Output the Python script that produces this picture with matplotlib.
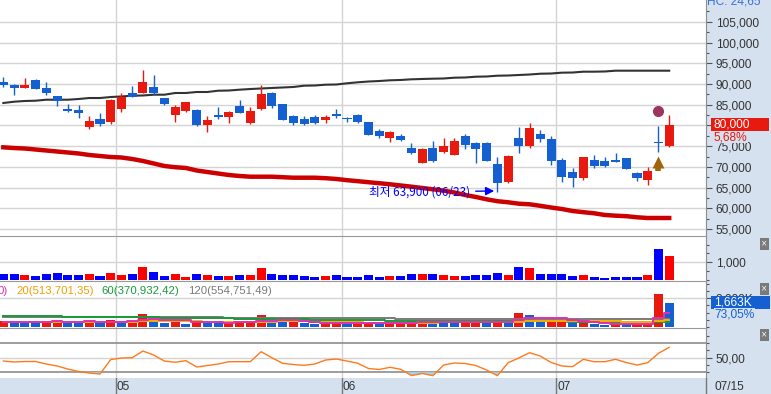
import numpy as np
import matplotlib.pyplot as plt
from matplotlib.patches import Rectangle

# ---- data ----
opens = [90500, 89800, 89100, 91000, 89000, 87100, 84000, 83700, 79700, 81600,
         80900, 84000, 87800, 87800, 89300, 86600, 82600, 83500, 83700, 80100,
         82500, 82100, 84700, 80600, 84000, 87800, 85200, 82300, 81600, 82000,
         81300, 82800, 81900, 82600, 80800, 78700, 77000, 77500, 74600, 71000,
         74600, 73600, 72900, 77500, 75800, 75800, 70700, 66400, 77000, 75100,
         78000, 76700, 71700, 68800, 67400, 71700, 71400, 71700, 72200, 68500,
         66900, 76000, 75100]
highs = [91700, 89900, 91400, 91200, 90500, 87100, 85200, 84900, 82300, 83000,
         86400, 87800, 89500, 93400, 92200, 86700, 84900, 85700, 84000, 82300,
         84500, 83500, 86100, 84500, 89800, 88100, 85200, 82500, 82300, 82500,
         82500, 84000, 82100, 82800, 80800, 79100, 78700, 78000, 75800, 74600,
         76300, 77000, 77000, 78000, 76100, 76100, 72500, 72900, 79700, 80600,
         78900, 77500, 72200, 69700, 72400, 72900, 72400, 73400, 72200, 68800,
         70000, 79900, 82500]
lows = [89300, 87400, 89100, 88900, 87400, 84800, 83300, 81900, 79100, 79900,
        80400, 83300, 86900, 87800, 87400, 84900, 80800, 83200, 79900, 78400,
        81600, 80600, 83000, 80400, 83700, 84200, 81300, 80100, 80100, 80400,
        80600, 81800, 80900, 80700, 77800, 77000, 76000, 76300, 73200, 71000,
        71300, 73400, 72900, 74400, 71000, 71500, 63900, 66200, 73400, 74600,
        76100, 70500, 66400, 65200, 66900, 69800, 70100, 71300, 69600, 66700,
        65700, 73700, 74900]
closes = [89800, 89100, 89800, 88900, 87800, 86000, 83600, 83100, 81100, 80400,
          86100, 86900, 86900, 90500, 87800, 85200, 84500, 85700, 80100, 81300,
          82100, 83200, 83000, 83500, 87600, 84700, 81300, 80600, 80400, 80600,
          82000, 82300, 81600, 80800, 77800, 77500, 78500, 76600, 73400, 74300,
          71500, 75000, 76300, 75400, 74400, 71500, 66200, 72700, 75100, 79400,
          76800, 71500, 67600, 67400, 72400, 70300, 70300, 71300, 69600, 67400,
          69000, 75700, 80000]
ma_upper = [85420, 85730, 85900, 85970, 86210, 86210, 86210, 86380, 86620, 86620,
            86860, 86990, 87180, 87230, 87420, 87420, 87830, 87830, 88070, 88070,
            88380, 88430, 88630, 88790, 88920, 89040, 89160, 89280, 89590, 89640,
            89830, 89880, 90170, 90410, 90600, 90720, 90890, 90970, 91130, 91210,
            91280, 91330, 91520, 91570, 91760, 91810, 92000, 92050, 92170, 92290,
            92480, 92530, 92730, 92770, 92970, 92970, 93020, 93210, 93210, 93210,
            93210, 93210, 93210]
ma_lower = [74730, 74560, 74440, 74200, 73960, 73720, 73480, 73240, 72880, 72630,
            72390, 72270, 71910, 71430, 70830, 70220, 69930, 69740, 69140, 68770,
            68410, 68050, 67810, 67640, 67640, 67640, 67520, 67400, 67400, 67400,
            67280, 67090, 66800, 66560, 66310, 66070, 65810, 65520, 65230, 64920,
            64600, 64270, 63830, 63230, 62750, 62190, 61730, 61470, 61130, 60990,
            60620, 60210, 59850, 59370, 59080, 58820, 58410, 58240, 58120, 57850,
            57680, 57680, 57680]
# trading value (panel 2)
value = [340, 340, 280, 230, 340, 400, 280, 280, 340, 230, 400, 280, 340, 730, 450, 230,
         340, 170, 340, 280, 230, 230, 280, 280, 680, 340, 280, 280, 230, 170, 230, 280,
         170, 170, 280, 170, 230, 230, 340, 340, 340, 280, 230, 230, 280, 280, 400, 280,
         730, 680, 340, 340, 340, 230, 280, 170, 110, 170, 170, 170, 280, 1750, 1360]
# volume in K shares (panel 3) and whether it rose vs the previous day
volume = [420, 400, 350, 280, 420, 490, 350, 330, 420, 280, 490, 350, 420, 900, 560, 280,
          420, 210, 420, 350, 280, 290, 350, 360, 840, 420, 350, 360, 280, 210, 280, 350,
          210, 220, 350, 210, 280, 290, 420, 430, 420, 350, 280, 290, 350, 340, 490, 350,
          980, 840, 420, 430, 440, 280, 350, 210, 140, 210, 200, 210, 350, 2300, 1663]
vol_up = [1, 0, 0, 0, 1, 1, 0, 0, 1, 0, 1, 0, 1, 1, 0, 0, 1, 0, 1, 0, 0, 1, 1, 1, 1, 0,
          0, 1, 0, 0, 1, 1, 0, 1, 1, 0, 1, 1, 1, 1, 0, 0, 0, 1, 1, 0, 1, 0, 1, 0, 0, 1,
          1, 0, 1, 0, 0, 1, 0, 1, 1, 1, 0]
vma5 = [360, 365, 370, 372, 374, 388, 378, 374, 402, 374, 374, 374, 392, 488, 544, 502,
        516, 474, 378, 336, 336, 310, 338, 326, 424, 452, 464, 466, 450, 324, 296, 286,
        266, 254, 282, 268, 254, 270, 310, 326, 368, 382, 358, 354, 338, 322, 350, 364,
        502, 600, 616, 604, 622, 482, 384, 342, 266, 238, 222, 194, 222, 652, 947]
vma20 = [380, 375, 370, 365, 360, 365, 370, 370, 365, 360, 370, 375, 380, 400, 420, 420,
         410, 400, 390, 380, 370, 365, 360, 350, 370, 380, 385, 390, 385, 380, 370, 350,
         330, 320, 310, 300, 290, 285, 290, 300, 310, 320, 325, 325, 320, 315, 320, 330,
         360, 390, 400, 410, 420, 425, 430, 430, 420, 410, 380, 360, 350, 420, 513]
vma60 = [760, 755, 750, 745, 740, 735, 730, 725, 720, 715, 710, 700, 690, 680, 670, 660,
         650, 640, 630, 620, 610, 600, 590, 580, 570, 560, 550, 540, 530, 520, 510, 500,
         490, 480, 470, 460, 450, 445, 440, 435, 430, 425, 420, 415, 410, 405, 400, 395,
         395, 390, 390, 385, 385, 380, 380, 375, 375, 372, 370, 368, 366, 368, 371]
vma120 = [700, 700, 698, 696, 694, 692, 690, 688, 686, 684, 682, 680, 678, 676, 674, 672,
          670, 668, 666, 664, 662, 660, 655, 650, 645, 640, 635, 630, 625, 620, 615, 610,
          605, 600, 598, 596, 594, 592, 590, 588, 586, 584, 582, 580, 578, 576, 574, 572,
          570, 568, 566, 564, 562, 560, 558, 556, 554, 552, 550, 549, 548, 551, 555]
osc = [45.4, 44.1, 44.8, 44.8, 41.3, 38.6, 34.4, 31.0, 28.9, 27.5, 47.5, 49.6, 50.0,
       59.2, 53.7, 45.4, 43.7, 45.9, 37.2, 39.2, 41.3, 44.5, 44.5, 44.5, 58.3, 50.0,
       42.3, 40.6, 39.5, 41.3, 46.8, 48.2, 45.4, 42.3, 35.1, 33.7, 36.8, 34.0, 25.4,
       28.2, 25.2, 39.9, 42.7, 42.0, 39.2, 33.0, 25.2, 43.1, 49.6, 56.9, 52.3, 43.4,
       38.6, 37.6, 47.8, 44.5, 44.5, 47.8, 43.4, 39.9, 43.1, 56.1, 64.3]
month_start = [11, 32, 52]
month_labels = ["05", "06", "07"]
last_date = "07/15"
low_label = "최저 63,900 (06/23)"

# ---- layout helpers (pixel boxes, origin top-left) ----
W, H = 771, 394
fig = plt.figure(figsize=(W / 100, H / 100), dpi=100)
FONT = ["Liberation Sans", "DejaVu Sans"]
FS = 8.6
RED, BLUE = "#e8190e", "#1560d0"
GRID, EDGE, PANEL = "#d4d4d4", "#8c8c8c", "#d5e1ef"


def box(x0, y0, x1, y1):
    return [x0 / W, 1 - y1 / H, (x1 - x0) / W, (y1 - y0) / H]


def fx(px):
    return px / W


def fy(py):
    return 1 - py / H


fig.patches.append(Rectangle((fx(706), 0), 1 - fx(706), 1, transform=fig.transFigure,
                             facecolor=PANEL, edgecolor="none", zorder=-5))
fig.patches.append(Rectangle((0, 0), 1, 1 - fy(378), transform=fig.transFigure,
                             facecolor=PANEL, edgecolor="none", zorder=-5))

x = np.arange(len(closes))
XL = (-0.31, -0.31 + 706 / 10.74)
grid_x = [m - 0.5 for m in month_start]

ax = fig.add_axes(box(0, 0, 706, 236))
ax2 = fig.add_axes(box(0, 236, 706, 281))
ax3 = fig.add_axes(box(0, 281, 706, 328))
ax4 = fig.add_axes(box(0, 328, 706, 378))
axd = fig.add_axes(box(0, 378, 771, 394))

for a in (ax, ax2, ax3, ax4):
    a.set_xlim(*XL)
    a.set_facecolor("white")
    for s in ("left", "bottom"):
        a.spines[s].set_visible(False)
    a.spines["top"].set_color("#999999")
    a.spines["right"].set_color(EDGE)
    a.set_xticks([])
    a.yaxis.tick_right()
    a.tick_params(axis="y", which="major", length=4.5, width=0.8, color="#555555",
                  labelsize=FS, labelcolor="#333333", pad=2.5)
    a.tick_params(axis="y", which="minor", length=2.5, width=0.8, color="#555555")
    for gx in grid_x:
        a.axvline(gx, color=GRID, lw=1.0, zorder=0)
ax.spines["top"].set_visible(False)

# ---- main price panel ----
ax.set_ylim(53338, 110261)
ticks = np.arange(55000, 105001, 5000)
ax.set_yticks(ticks)
# the last-price box covers the label at the close level
ax.set_yticklabels(["" if t == closes[-1] else f"{t:,}" for t in ticks], family=FONT)
ax.set_yticks(np.arange(57500, 110000, 5000), minor=True)
for t in ticks:
    ax.axhline(t, color=GRID, lw=1.0, zorder=0)

ax.plot(x, ma_upper, color="#333333", lw=1.5, zorder=2)
ax.plot(x, ma_lower, color="#cc0000", lw=3.2, zorder=2)
for i in x:
    o, c = opens[i], closes[i]
    col = RED if c > o else BLUE
    ax.vlines(i, lows[i], highs[i], color=col, lw=1.0, zorder=3)
    body = max(abs(c - o), 300)
    ax.bar(i, body, bottom=min(o, c), width=0.84, color=col, zorder=4, linewidth=0)

low_i = int(np.argmin(lows))
ax.annotate(low_label, xy=(low_i - 0.3, lows[low_i] + 300), xytext=(-24, -1),
            textcoords="offset pixels", ha="right", va="center", color="#0000ff",
            fontsize=8.4, family=["Noto Sans CJK KR", "DejaVu Sans"],
            arrowprops=dict(arrowstyle="-|>,head_length=0.6,head_width=0.3",
                            color="#0000ff", lw=1.0, shrinkA=2, shrinkB=0))
ax.plot(61, 83500, "o", color="#9c3462", ms=7, zorder=5)
ax.plot(61, 71200, marker="^", color="#a0650c", ms=8, zorder=5, mec="none")
ax.vlines(61, 69050, 70900, color="#a0650c", lw=4, zorder=5)

# ---- trading value panel ----
ax2.set_ylim(-56, 2486)
ax2.set_yticks([1000])
ax2.set_yticklabels(["1,000"], family=FONT)
ax2.set_yticks([0, 500, 1500, 2000], minor=True)
ax2.axhline(1000, color=GRID, lw=1.0, zorder=0)
vcol = ["#ff0000" if c > o else "#0000ff" for o, c in zip(opens, closes)]
ax2.bar(x, value, width=0.84, color=vcol, linewidth=0, zorder=3)

# ---- volume panel ----
ax3.set_ylim(-70, 3206)
ax3.set_yticks([2000])
ax3.set_yticklabels(["2,000K"], family=FONT)
ax3.set_yticks([0, 500, 1000, 1500, 2500, 3000], minor=True)
ax3.axhline(2000, color=GRID, lw=1.0, zorder=0)
ax3.bar(x, volume, width=0.84, color=[RED if u else BLUE for u in vol_up],
        linewidth=0, zorder=3)
ax3.step(x, vma120, where="mid", color="#7a7a7a", lw=1.4, zorder=4)
ax3.step(x, vma60, where="mid", color="#1a9a3a", lw=1.4, zorder=4)
ax3.step(x, vma20, where="mid", color="#f0b000", lw=1.4, zorder=4)
ax3.step(x, vma5, where="mid", color="#e030b0", lw=1.4, zorder=4)

# ---- oscillator panel ----
ax4.set_ylim(22.0, 91.0)
ax4.set_yticks([50])
ax4.set_yticklabels(["50,00"], family=FONT)
ax4.set_yticks([30, 40, 60, 70, 80], minor=True)
ax4.axhline(50, color=GRID, lw=1.0, zorder=0)
ax4.axhline(70, color=EDGE, lw=1.2, zorder=1)
ax4.axhline(30, color=EDGE, lw=1.2, zorder=1)
osc_a = np.array(osc)
ax4.fill_between(x, osc_a, 30, where=osc_a < 30, interpolate=True,
                 color="#a6d6ea", zorder=2, lw=0)
ax4.plot(x, osc, color="#ff7a1a", lw=1.0, zorder=3)

# ---- date strip ----
axd.set_xlim(XL[0], XL[0] + 771 / 10.74)
axd.set_ylim(0, 1)
axd.set_facecolor(PANEL)
axd.axis("off")
for gx, lab in zip(grid_x, month_labels):
    axd.axvline(gx, color="#777777", lw=1.0)
    axd.text(gx + 0.08, 0.45, lab, ha="left", va="center", fontsize=FS,
             family=FONT, color="#333333")
axd.axvline(XL[1], color="#777777", lw=1.0)
axd.text(XL[1] + 0.75, 0.45, last_date, ha="left", va="center", fontsize=FS,
         family=FONT, color="#333333")

# ---- right-side labels ----
fig.text(fx(707), fy(4), "HC: 24,65", ha="left", va="baseline", fontsize=FS,
         family=FONT, color="#3a6fd8")
fig.patches.append(Rectangle((fx(711), fy(131)), fx(58), fy(118) - fy(131),
                             transform=fig.transFigure, facecolor=RED, zorder=5))
fig.text(fx(714), fy(124.5), f"{closes[-1]:,}", ha="left", va="center", fontsize=FS,
         family=FONT, color="white", zorder=6)
chg = (closes[-1] / closes[-2] - 1) * 100
fig.text(fx(714), fy(137), f"{chg:.2f}%".replace(".", ","), ha="left", va="center",
         fontsize=FS, family=FONT, color=RED, zorder=6,
         bbox=dict(facecolor=PANEL, edgecolor="none", pad=0.3))
fig.patches.append(Rectangle((fx(711), fy(309)), fx(59), fy(296) - fy(309),
                             transform=fig.transFigure, facecolor=BLUE, zorder=5))
fig.text(fx(714), fy(302.5), f"{volume[-1]:,}K", ha="left", va="center", fontsize=FS,
         family=FONT, color="white", zorder=6)
fig.text(fx(714), fy(314.5), "73,05%", ha="left", va="center", fontsize=FS,
         family=FONT, color=BLUE, zorder=6,
         bbox=dict(facecolor=PANEL, edgecolor="none", pad=0.3))
for yy in (244, 289, 335):
    fig.text(fx(764.5), fy(yy), "×", ha="center", va="center", fontsize=5.5,
             color="white", zorder=6,
             bbox=dict(facecolor="#7a7a7a", edgecolor="none", boxstyle="square,pad=0.15"))

# ---- volume MA legend ----
for px, txt, col in [(-3, "0)", "#e030b0"), (16, "20(513,701,35)", "#f0a000"),
                     (101, "60(370,932,42)", "#1a9a3a"), (188, "120(554,751,49)", "#7a7a7a")]:
    fig.text(fx(px), fy(291), txt, ha="left", va="center", fontsize=8.2,
             family=FONT, color=col, zorder=6)

fig.savefig("out.png", dpi=100)
